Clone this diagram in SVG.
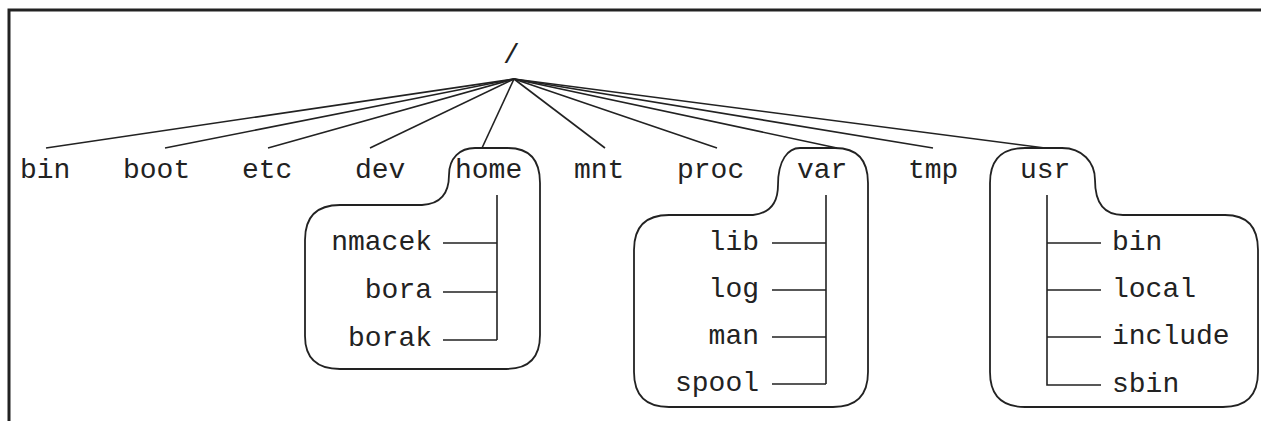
<svg xmlns="http://www.w3.org/2000/svg" width="1261" height="421" viewBox="0 0 1261 421">
<style>
text{font-family:"Liberation Mono","Courier New",monospace;font-size:28px;fill:#222}
.e{text-anchor:end}
.ln{stroke:#222;stroke-width:1.6;fill:none}
.box{stroke:#222;stroke-width:1.8;fill:none}
</style>
<rect width="1261" height="421" fill="#fff"/>
<path d="M9 421 V10 H1261" fill="none" stroke="#222" stroke-width="3"/>
<g id="connectors" class="ln">
<line x1="514" y1="79" x2="46" y2="148"/>
<line x1="514" y1="79" x2="165" y2="148"/>
<line x1="514" y1="79" x2="268" y2="148"/>
<line x1="514" y1="79" x2="370" y2="148"/>
<line x1="514" y1="79" x2="482" y2="148"/>
<line x1="514" y1="79" x2="605" y2="148"/>
<line x1="514" y1="79" x2="717" y2="148"/>
<line x1="514" y1="79" x2="837" y2="148"/>
<line x1="514" y1="79" x2="933" y2="148"/>
<line x1="514" y1="79" x2="1045" y2="148"/>
<path d="M497 195 V340 M443 243 H497 M443 292 H497 M443 340 H497"/>
<path d="M826 195 V384 M772 243 H826 M772 290 H826 M772 337 H826 M772 384 H826"/>
<path d="M1047 195 V385 H1101 M1047 243 H1101 M1047 290 H1101 M1047 337 H1101"/>
</g>
<g id="root"><text x="503" y="63">/</text></g>
<g id="bin"><text x="20" y="178">bin</text></g>
<g id="boot"><text x="123" y="178">boot</text></g>
<g id="etc"><text x="242" y="178">etc</text></g>
<g id="dev"><text x="355" y="178">dev</text></g>
<g id="home">
<path class="box" d="M475 148 H508 Q540 148 540 183 V335 Q540 369 506 369 H340 Q305 369 305 336 V240 Q305 205 340 205 H422 C442 204 449 192 449 175 C449 158 460 148 475 148 Z"/>
<text x="455" y="178">home</text>
<text class="e" x="432" y="250">nmacek</text>
<text class="e" x="432" y="298">bora</text>
<text class="e" x="432" y="346">borak</text>
</g>
<g id="mnt"><text x="574" y="178">mnt</text></g>
<g id="proc"><text x="677" y="178">proc</text></g>
<g id="var">
<path class="box" d="M800 148 H835 Q868 148 868 183 V372 Q868 407 833 407 H669 Q634 407 634 372 V250 Q634 215 669 215 H753 C772 213 778 200 778 185 C778 160 788 148 800 148 Z"/>
<text x="797" y="178">var</text>
<text class="e" x="759" y="250">lib</text>
<text class="e" x="759" y="297">log</text>
<text class="e" x="759" y="344">man</text>
<text class="e" x="759" y="391">spool</text>
</g>
<g id="tmp"><text x="908" y="178">tmp</text></g>
<g id="usr">
<path class="box" d="M1025 148 H1062 C1082 148 1095 162 1095 180 C1095 200 1102 215 1123 215 H1225 Q1258 215 1258 250 V372 Q1258 407 1223 407 H1025 Q990 407 990 372 V183 Q990 148 1025 148 Z"/>
<text x="1020" y="178">usr</text>
<text x="1112" y="250">bin</text>
<text x="1112" y="297">local</text>
<text x="1112" y="344">include</text>
<text x="1112" y="392">sbin</text>
</g>
</svg>
